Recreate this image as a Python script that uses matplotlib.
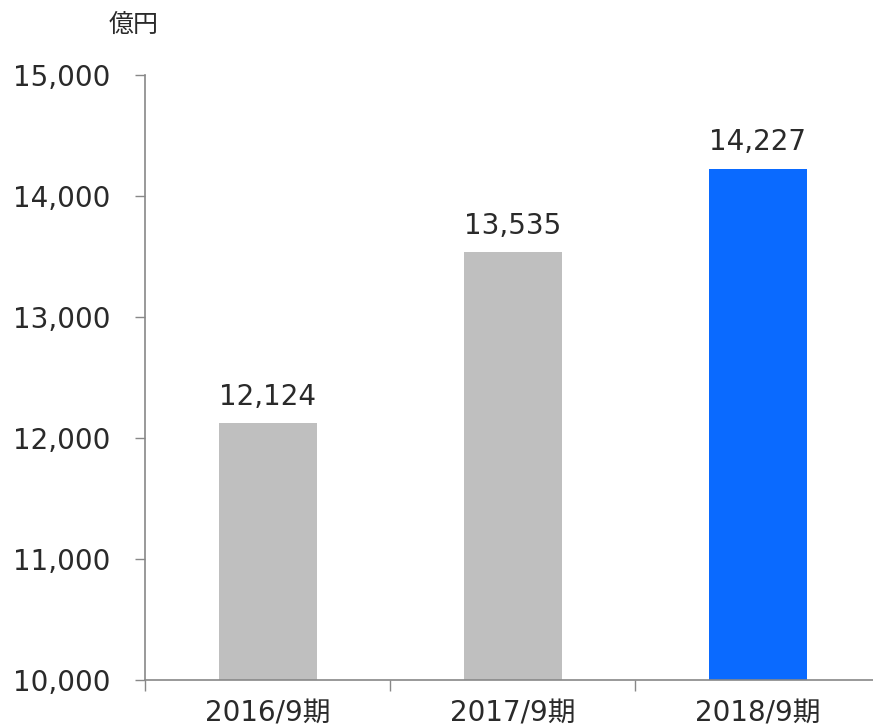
import matplotlib
matplotlib.use("Agg")
import matplotlib.pyplot as plt
import numpy as np

categories = ["2016/9期", "2017/9期", "2018/9期"]
values = [12124, 13535, 14227]
colors = ["#bfbfbf", "#bfbfbf", "#0a6aff"]
yticks = [10000, 11000, 12000, 13000, 14000, 15000]

plt.rcParams['font.family'] = ['DejaVu Sans', 'Noto Sans CJK JP']

fig = plt.figure(figsize=(8.73, 7.26), dpi=100)
ax = fig.add_axes([145/873, 1-680/726, 735/873, (680-75)/726])

x = np.arange(len(categories))
ax.bar(x, values, width=0.4, color=colors, zorder=2)
for xi, v in zip(x, values):
    ax.text(xi, v + 150, f"{v:,}", ha='center', va='baseline', fontsize=20, color='#2a2a2a')

ax.set_xlim(-0.5, 2.5)
ax.set_ylim(10000, 15000)
ax.set_yticks(yticks)
ax.set_yticklabels([f"{t:,}" for t in yticks], fontsize=20, color='#2a2a2a')
ax.set_xticks(x)
ax.set_xticklabels(categories, fontsize=20, color='#2a2a2a')
ax.tick_params(axis='x', length=0, pad=14)
ax.set_xticks([-0.5, 0.5, 1.5, 2.5], minor=True)
ax.tick_params(axis='x', which='minor', length=8, color='#888888', width=1)
ax.tick_params(axis='y', length=7, color='#888888', width=1, pad=18)

for s in ['top', 'right']:
    ax.spines[s].set_visible(False)
for s in ['left', 'bottom']:
    ax.spines[s].set_color('#888888')
    ax.spines[s].set_linewidth(1.2)

fig.text(134/873, 1-25/726, "億円", ha='center', va='center', fontsize=18,
         color='#2a2a2a', family=['Noto Sans CJK JP'])

fig.savefig("out.png", dpi=100)
